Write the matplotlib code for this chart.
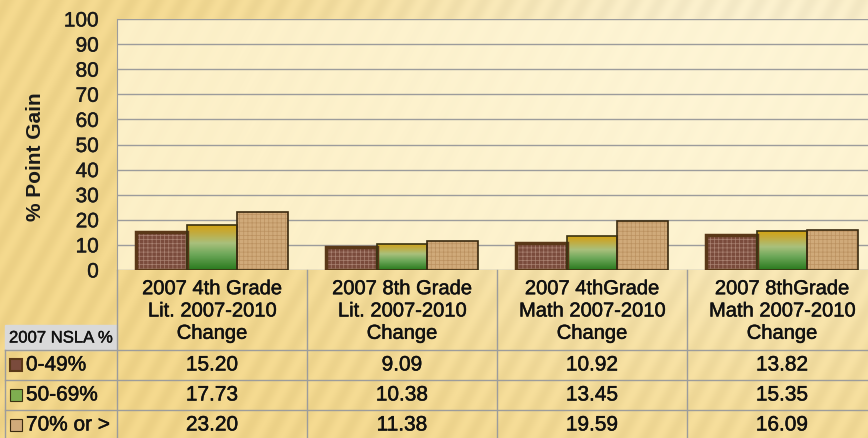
import numpy as np
import matplotlib.pyplot as plt
import matplotlib.patheffects as pe
from matplotlib.colors import LinearSegmentedColormap
from matplotlib.patches import Rectangle

categories = ["2007 4th Grade\nLit. 2007-2010\nChange",
              "2007 8th Grade\nLit. 2007-2010\nChange",
              "2007 4thGrade\nMath 2007-2010\nChange",
              "2007 8thGrade\nMath 2007-2010\nChange"]
series_names = ["0-49%", "50-69%", "70% or >"]
low_nsla = [15.20, 9.09, 10.92, 13.82]
mid_nsla = [17.73, 10.38, 13.45, 15.35]
high_nsla = [23.20, 11.38, 19.59, 16.09]
yticks = list(range(0, 101, 10))

W, H = 868, 438
plt.rcParams['font.family'] = ['Liberation Sans', 'DejaVu Sans']
fig = plt.figure(figsize=(W / 100, H / 100), dpi=100)

# slightly heavier strokes, closer to the slide font
thick = [pe.withStroke(linewidth=0.35, foreground='#111111')]


def fx(px):
    return px / W


def fy(py):
    return 1 - py / H


# slide background: golden with light glow in the upper right and soft stripes
bg = fig.add_axes([0, 0, 1, 1], zorder=-10)
yy, xx = np.mgrid[0:H, 0:W]
glow = np.exp(-(((xx - 760) / 420.0) ** 2 + ((yy - 60) / 300.0) ** 2))
stripes = 0.5 + 0.5 * np.sin((xx + yy * 0.55) / 4.0)
base = np.array([0.96, 0.85, 0.55])
light = np.array([0.99, 0.95, 0.82])
img = base[None, None, :] * (1 - glow[..., None]) + light[None, None, :] * glow[..., None]
img = img - 0.035 * stripes[..., None]
bg.imshow(np.clip(img, 0, 1), extent=[0, W, H, 0], aspect='auto')
bg.set_xlim(0, W)
bg.set_ylim(H, 0)
bg.axis('off')

# chart area
ax = fig.add_axes([fx(117), fy(270), fx(868 - 117), fy(19) - fy(270)])
ax.set_facecolor((1.0, 0.965, 0.84, 0.8))
ax.set_ylim(0, 100)
ax.set_yticks(yticks)
ax.tick_params(axis='y', length=0, labelsize=15, pad=13, labelcolor='#1a1a1a')
ax.set_xticks([])
ax.yaxis.grid(True, color='#9c9c9c', linewidth=1)
ax.set_axisbelow(True)
for s in ['top', 'right', 'bottom']:
    ax.spines[s].set_visible(False)
ax.spines['left'].set_color('#9c9c9c')
ax.set_ylabel('% Point Gain', fontsize=15, fontweight='bold', color='#1a1a1a')
ax.yaxis.set_label_coords(-0.096, 0.45)

w = 0.8 / 3
x = np.arange(len(categories))

# series 1: dark brown with a light checked texture
plt.rcParams['hatch.color'] = '#a98272'
plt.rcParams['hatch.linewidth'] = 0.5
ax.bar(x - w, low_nsla, w, color='#7a4b3c', edgecolor='#a98272', hatch='++++', linewidth=0, zorder=3)
ax.bar(x - w, low_nsla, w, fill=False, edgecolor='#5a3818', linewidth=2.5, zorder=4)

# series 2: gold to green gradient
grad = LinearSegmentedColormap.from_list('g', [(0.0, '#2a7a1e'), (0.35, '#6ea85a'),
                                               (0.6, '#a9c07c'), (0.85, '#c4aa3a'),
                                               (1.0, '#d2a414')])
for xi, v in zip(x, mid_nsla):
    im = ax.imshow(np.linspace(0, 1, 64).reshape(-1, 1), cmap=grad, origin='lower',
                   extent=[xi - w / 2, xi + w / 2, 0, v], aspect='auto', zorder=3)
    r = Rectangle((xi - w / 2, 0), w, v, fill=False, edgecolor='#3a3212', linewidth=1.2, zorder=4)
    ax.add_patch(r)
    im.set_clip_path(r)

# series 3: tan with a fine pattern
plt.rcParams['hatch.color'] = '#bb9160'
ax.bar(x + w, high_nsla, w, color='#d0aa7a', edgecolor='#bb9160', hatch='++++', linewidth=0, zorder=3)
ax.bar(x + w, high_nsla, w, fill=False, edgecolor='#3a2a10', linewidth=1.2, zorder=4)

ax.set_xlim(-0.5, 3.453)
ax.set_ylim(0, 100)
for t in ax.get_yticklabels():
    t.set_path_effects([pe.withStroke(linewidth=0.3, foreground='#1a1a1a')])

# data table below the chart
line_c = '#9c9c9c'
col_edges = [117, 307, 497, 687, 877]
row_lines = [350, 380, 410]
ov = fig.add_axes([0, 0, 1, 1], zorder=5)
ov.set_xlim(0, W)
ov.set_ylim(H, 0)
ov.axis('off')
for cx in col_edges[:-1]:
    ov.plot([cx, cx], [270, H], color=line_c, lw=1)
ov.plot([5, 5], [350, H], color=line_c, lw=1)
for ry in row_lines:
    ov.plot([5, W], [ry, ry], color=line_c, lw=1)
ov.add_patch(Rectangle((5, 325), 112, 25, color='#d9d9d9', zorder=1))
ov.text(9, 338, '2007 NSLA %', fontsize=12, va='center', ha='left', color='#111111',
        path_effects=[pe.withStroke(linewidth=0.3, foreground='#111111')])

for i, cat in enumerate(categories):
    cxm = (col_edges[i] + col_edges[i + 1]) / 2
    ov.text(cxm, 311, cat, fontsize=14.5, ha='center', va='center', linespacing=1.22,
            color='#111111', path_effects=thick)

row_vals = [low_nsla, mid_nsla, high_nsla]
for r, (name, vals) in enumerate(zip(series_names, row_vals)):
    ry = row_lines[r] + 15
    key = Rectangle((10, ry - 6), 12, 12, zorder=3)
    if r == 0:
        key.set_facecolor('#7a4b3c'); key.set_edgecolor('#5a3818'); key.set_linewidth(1.5)
    elif r == 1:
        key.set_facecolor('#7fae50'); key.set_edgecolor('#3a3212'); key.set_linewidth(0.8)
    else:
        key.set_facecolor('#d0aa7a'); key.set_edgecolor('#3a2a10'); key.set_linewidth(0.8)
    ov.add_patch(key)
    ov.text(26, ry, name, fontsize=15, ha='left', va='center', color='#111111', path_effects=thick)
    for i, v in enumerate(vals):
        cxm = (col_edges[i] + col_edges[i + 1]) / 2
        ov.text(cxm, ry, f"{v:.2f}", fontsize=15, ha='center', va='center', color='#111111',
                path_effects=thick)

fig.savefig('out.png', dpi=100)
